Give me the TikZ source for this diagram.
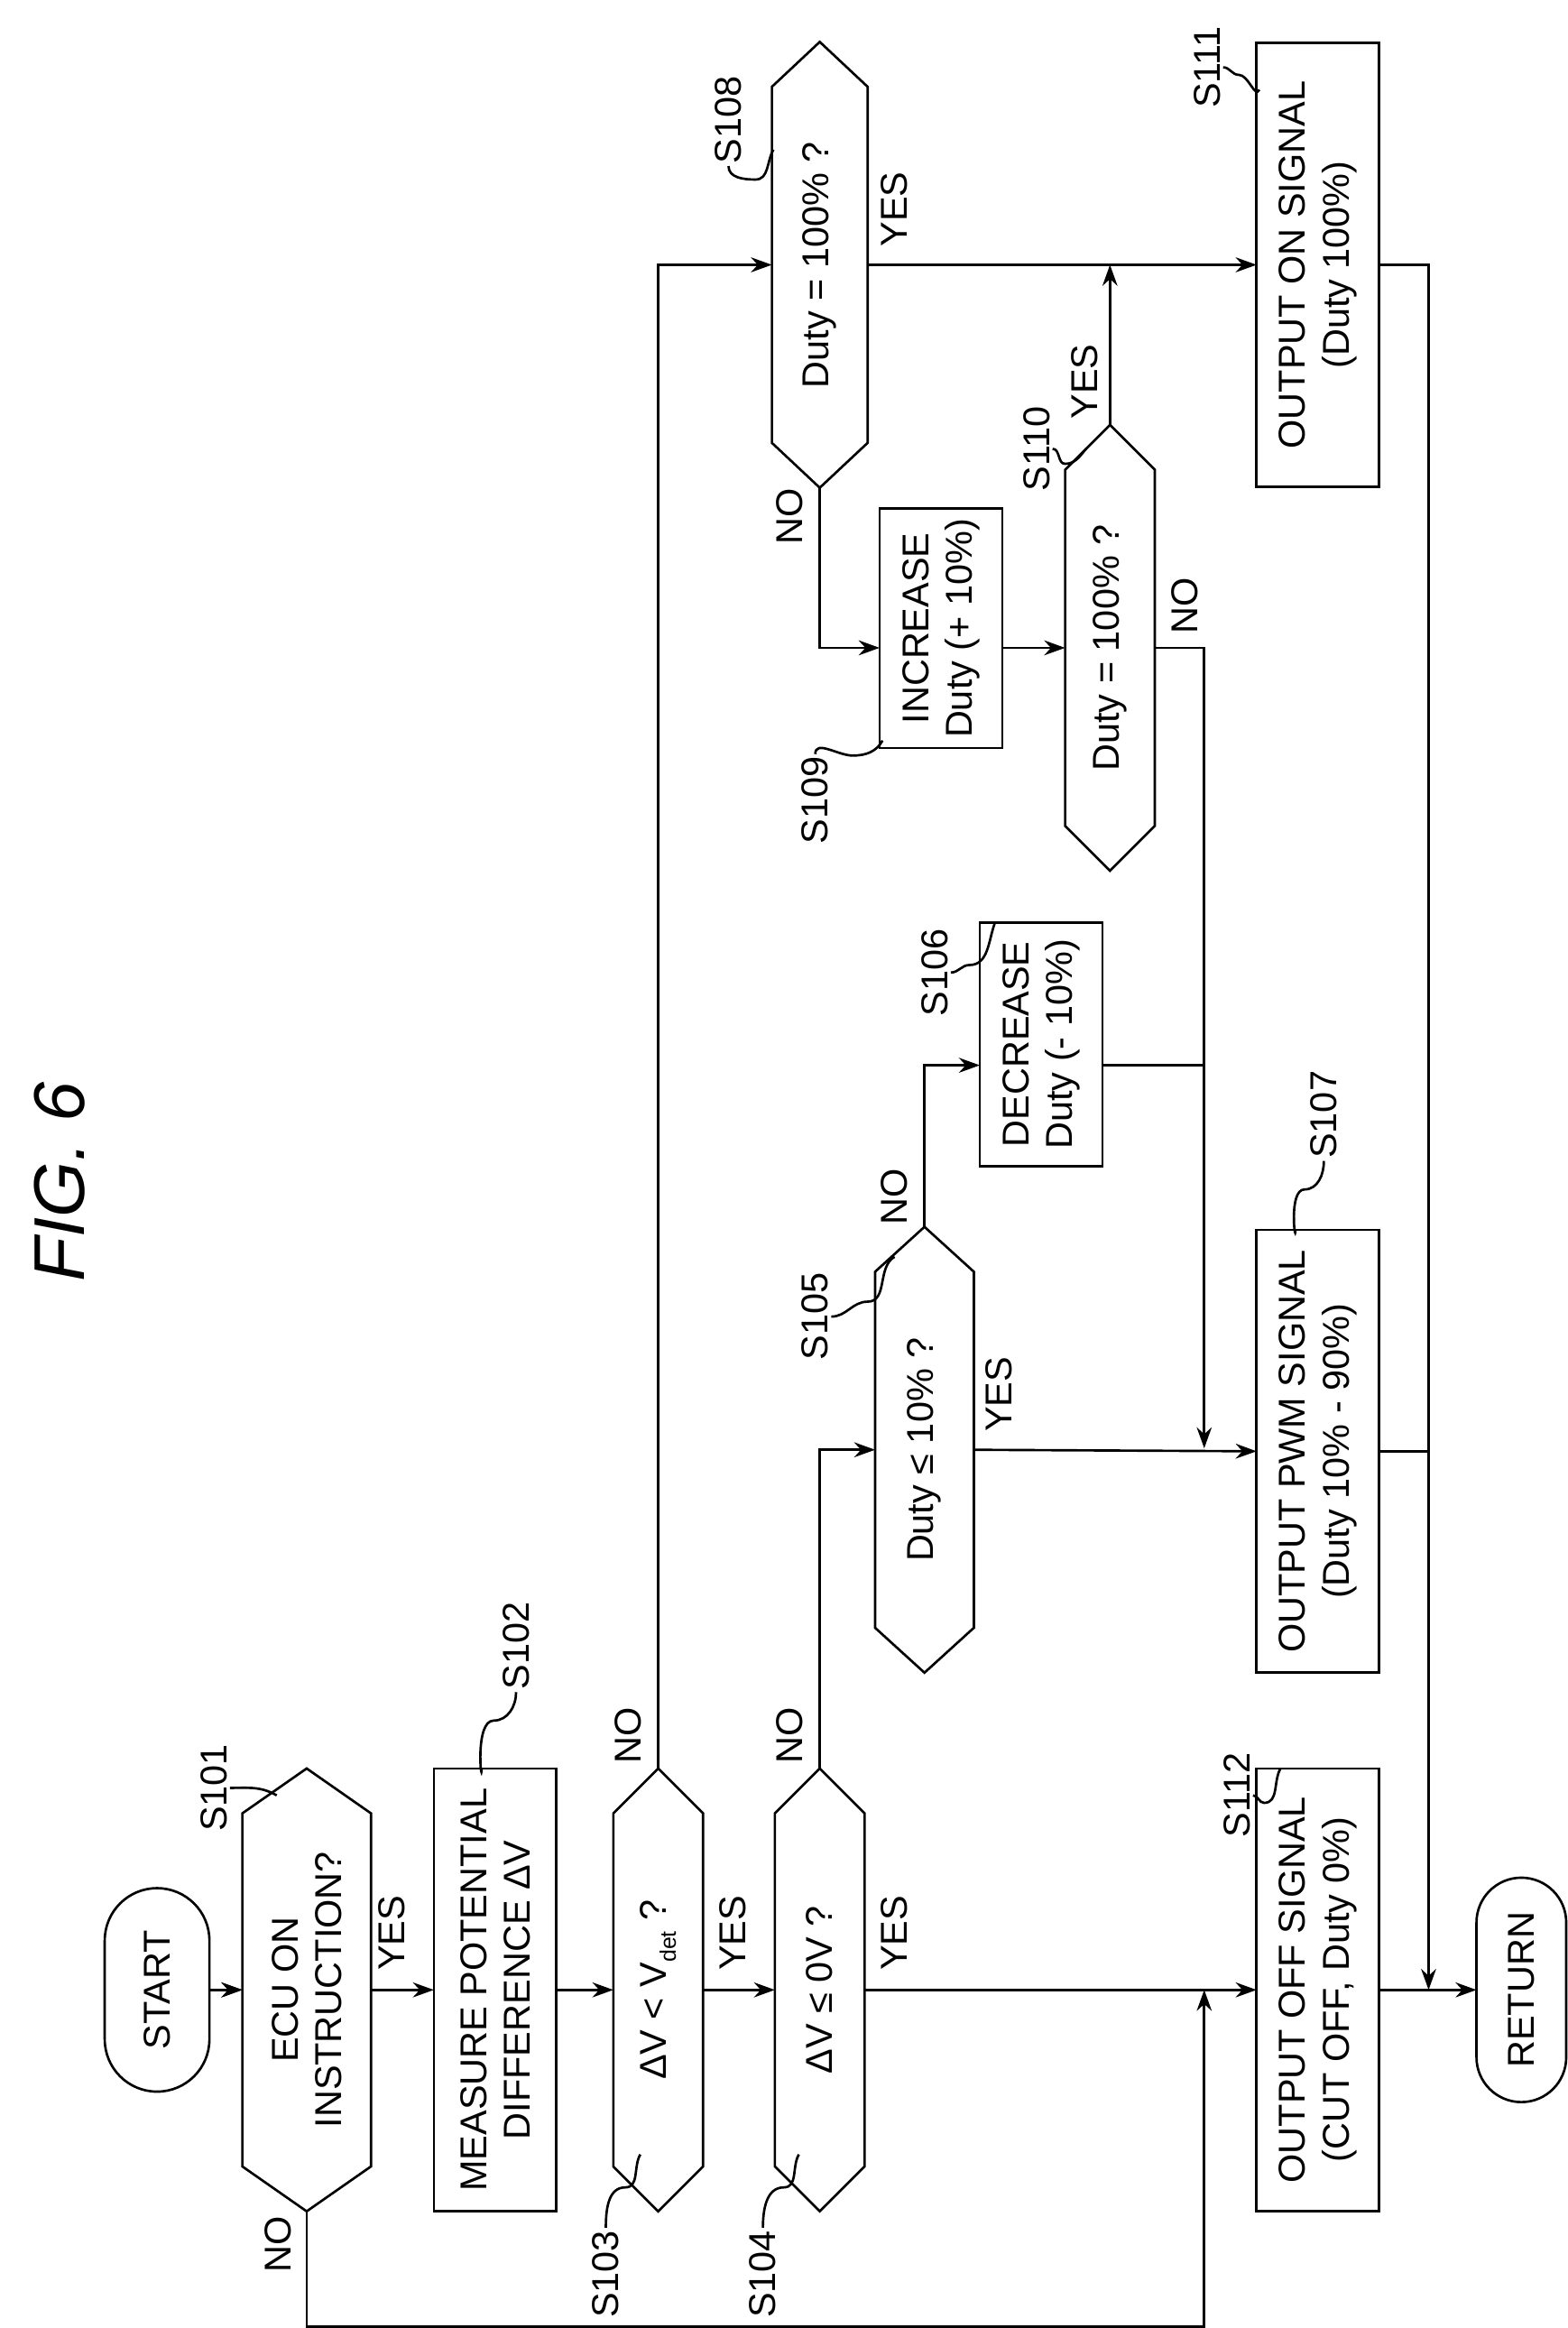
\documentclass[tikz,border=0pt]{standalone}
\usepackage{fontspec}
\setmainfont{Liberation Sans}
\usetikzlibrary{arrows.meta,shapes.misc}
\begin{document}
\begin{tikzpicture}[x=1pt,y=-1pt,line width=1.6pt,
  txt/.style={rotate=90,align=center,font=\fontsize{25}{29}\selectfont,inner sep=0,outer sep=0},
  box/.style={txt,draw},
  term/.style={txt,draw,rounded rectangle},
  hex/.style={txt},
  lab/.style={rotate=90,font=\fontsize{25}{29}\selectfont,inner sep=1pt},
  arr/.style={-{Stealth[length=14pt,width=10pt]}}]
\useasboundingbox (0,0) rectangle (1048,1556);
\newcommand\hexa[6]{%
  \node[hex,minimum width={2*#5},minimum height={2*#4}] (#1) at (#2,#3) {#6};
  \draw (#2,{#3-#5}) -- ({#2+#4},{#3-#5+30}) -- ({#2+#4},{#3+#5-30}) -- (#2,{#3+#5})
     -- ({#2-#4},{#3+#5-30}) -- ({#2-#4},{#3-#5+30}) -- cycle;}
\node[rotate=90,font=\fontsize{48}{52}\selectfont\itshape] (fig) at (40,790) {FIG. 6};
\node[term,minimum width=136,minimum height=70] (start) at (105,1330) {START};
\hexa{s101}{205}{1330}{43}{148}{ECU ON\\INSTRUCTION?}
\node[box,minimum width=296,minimum height=82] (s102) at (331,1330) {MEASURE POTENTIAL\\DIFFERENCE ΔV};
\hexa{s103}{440}{1330}{30}{148}{ΔV < V\raisebox{-0.25em}{\fontsize{15}{15}\selectfont det} ?}
\hexa{s104}{548}{1330}{30}{148}{ΔV ≤ 0V ?}
\hexa{s105}{618}{969}{33}{149}{Duty ≤ 10\% ?}
\node[box,minimum width=163,minimum height=82] (s106) at (696,698) {DECREASE\\Duty (- 10\%)};
\node[box,minimum width=296,minimum height=82] (s107) at (881,970) {OUTPUT PWM SIGNAL\\(Duty 10\% - 90\%)};
\hexa{s108}{548}{177}{32}{149}{Duty = 100\% ?}
\node[box,minimum width=160,minimum height=82] (s109) at (629,420) {INCREASE\\Duty (+ 10\%)};
\hexa{s110}{742}{433}{30}{149}{Duty = 100\% ?}
\node[box,minimum width=297,minimum height=82] (s111) at (881,177) {OUTPUT ON SIGNAL\\(Duty 100\%)};
\node[box,minimum width=296,minimum height=82] (s112) at (881,1330) {OUTPUT OFF SIGNAL\\(CUT OFF, Duty 0\%)};
\node[term,minimum width=150,minimum height=60] (ret) at (1017,1330) {RETURN};
% connectors
\draw[arr] (start.south) -- (s101.south-|s101.north);
\coordinate (m1) at (805,1330);
\coordinate (m2) at (805,968);
\coordinate (m3) at (955,1330);
\draw[arr] (start.south) -- ([xshift=-43pt]s101.center);
\draw[arr] ([xshift=43pt]s101.center) -- (s102.north);
\draw[arr] (s102.south) -- ([xshift=-30pt]s103.center);
\draw[arr] ([xshift=30pt]s103.center) -- ([xshift=-30pt]s104.center);
\draw[arr] ([xshift=30pt]s104.center) -- (s112.north);
\draw[arr] (s101.west) -- (205,1555) -- (805,1555) -- (m1);
\draw[arr] (s103.east) -- (440,177) -- ([xshift=-32pt]s108.center);
\draw[arr] (s104.east) -- (548,969) -- ([xshift=-33pt]s105.center);
\draw[arr] ([xshift=33pt]s105.center) -- (s107.north);
\draw[arr] (s105.east) -- (618,712) -- (s106.north|-618,712);
\draw (s106.south|-618,712) -- (805,712);
\draw[arr] ([xshift=30pt]s110.center) -- (805,433) -- (m2);
\draw[arr] ([xshift=32pt]s108.center) -- (s111.north);
\draw[arr] (s108.west) -- (548,433) -- (s109.north|-548,433);
\draw[arr] (s109.south|-548,433) -- ([xshift=-30pt]s110.center);
\draw[arr] (s110.east) -- (742,177);
\draw (s111.south) -- (955,177) -- (955,1250);
\draw (s107.south) -- (955,970);
\draw[arr] (955,1240) -- (m3);
\draw[arr] (s112.south) -- (ret.north);
% yes/no
\node[lab] at (262,1292) {YES};
\node[lab] at (490,1292) {YES};
\node[lab] at (598,1292) {YES};
\node[lab] at (186,1500) {NO};
\node[lab] at (420,1160) {NO};
\node[lab] at (528,1160) {NO};
\node[lab] at (668,932) {YES};
\node[lab] at (598,800) {NO};
\node[lab] at (598,140) {YES};
\node[lab] at (528,345) {NO};
\node[lab] at (725,255) {YES};
\node[lab] at (792,405) {NO};
% step labels
\node[lab] (l101) at (143,1195) {S101};
\draw (l101.south) to[out=0,in=150] (185,1200);
\node[lab] (l102) at (345,1100) {S102};
\draw (l102.west) to[out=-90,in=0] (330,1150) to[out=180,in=-90] (322,1182);
\node[lab] (l103) at (405,1520) {S103};
\draw (l103.east) to[out=90,in=180] (418,1462) to[out=0,in=-120] (428,1440);
\node[lab] (l104) at (510,1520) {S104};
\draw (l104.east) to[out=90,in=180] (524,1462) to[out=0,in=-120] (534,1440);
\node[lab] (l105) at (545,880) {S105};
\draw (l105.south) to[out=0,in=180] (580,870) to[out=0,in=-150] (598,840);
\node[lab] (l106) at (625,650) {S106};
\draw (l106.south) to[out=0,in=180] (648,645) to[out=0,in=-110] (665,617);
\node[lab] (l107) at (885,745) {S107};
\draw (l107.west) to[out=-90,in=0] (872,795) to[out=180,in=-90] (866,822);
\node[lab] (l108) at (487,80) {S108};
\draw (l108.west) to[out=-90,in=180] (505,120) to[out=0,in=-120] (517,100);
\node[lab] (l109) at (545,535) {S109};
\draw (l109.east) to[out=90,in=180] (570,505) to[out=0,in=-120] (590,495);
\node[lab] (l110) at (693,300) {S110};
\draw (l110.south) to[out=0,in=180] (712,310) to[out=0,in=-130] (726,300);
\node[lab] (l111) at (807,45) {S111};
\draw (l111.south) to[out=0,in=180] (828,50) to[out=0,in=-120] (842,60);
\node[lab] (l112) at (827,1200) {S112};
\draw (l112.south) to[out=0,in=180] (845,1205) to[out=0,in=-120] (856,1182);
\end{tikzpicture}
\end{document}
